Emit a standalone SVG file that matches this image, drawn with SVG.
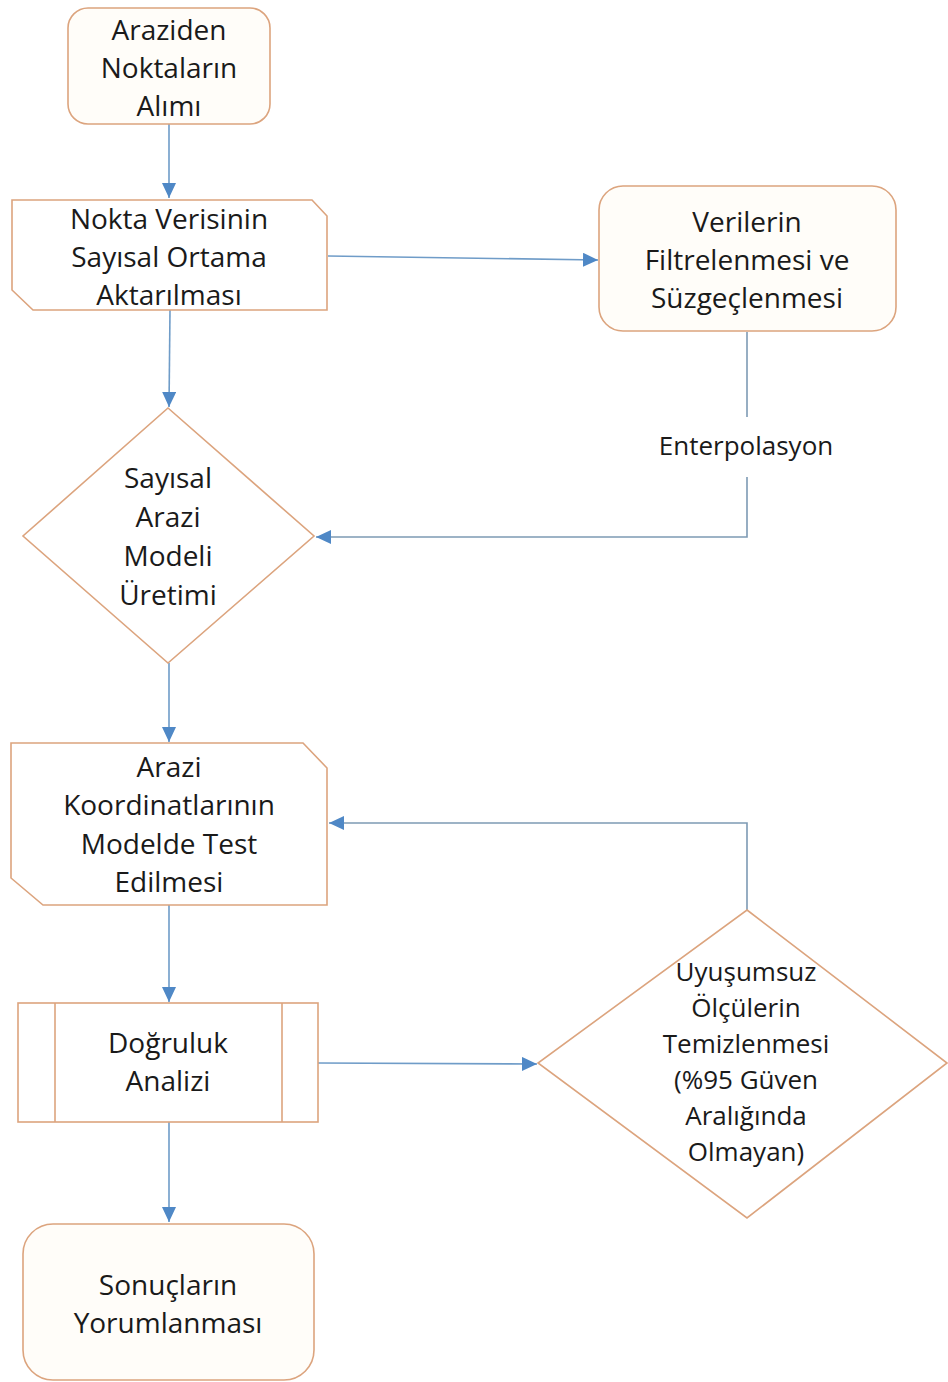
<svg xmlns="http://www.w3.org/2000/svg" width="948" height="1382" viewBox="0 0 948 1382">
<style>
.n{fill:#ffffff;stroke:#dca47e;stroke-width:1.6}
.c{fill:#fffdf9;stroke:#dca47e;stroke-width:1.6}
.t{font-family:"Open Sans","Liberation Sans",sans-serif;font-size:28px;fill:#1a1a1a;text-anchor:middle}
.s{font-size:26px}
.l{fill:none;stroke:#6f9cc8;stroke-width:1.6}
.g{fill:none;stroke:#7d9ab4;stroke-width:1.6}
</style>
<defs>
<marker id="ah2" viewBox="0 0 10 10" refX="10" refY="5" markerWidth="15" markerHeight="14" markerUnits="userSpaceOnUse" orient="auto" preserveAspectRatio="none">
<path d="M0,0 L10,5 L0,10 z" fill="#4f88c6"/>
</marker>
</defs>
<rect width="948" height="1382" fill="#ffffff"/>
<g id="connectors">
<path class="l" d="M169,124 L169,198" marker-end="url(#ah2)"/>
<path class="l" d="M328,256 L598,260" marker-end="url(#ah2)"/>
<path class="g" d="M747,332 L747,417"/>
<path class="g" d="M747,477 L747,537 L316,537" marker-end="url(#ah2)"/>
<path class="l" d="M170,310 L169,407" marker-end="url(#ah2)"/>
<path class="l" d="M169,663 L169,742" marker-end="url(#ah2)"/>
<path class="l" d="M169,905 L169,1002" marker-end="url(#ah2)"/>
<path class="l" d="M318,1063 L537,1064" marker-end="url(#ah2)"/>
<path class="g" d="M747,910 L747,823 L329,823" marker-end="url(#ah2)"/>
<path class="l" d="M169,1122 L169,1222" marker-end="url(#ah2)"/>
<text class="t s" x="746" y="455">Enterpolasyon</text>
</g>
<g id="n1">
<rect class="c" x="68" y="8" width="202" height="116" rx="20"/>
<text class="t" x="169" y="40">Araziden</text>
<text class="t" x="169" y="78">Noktaların</text>
<text class="t" x="169" y="116">Alımı</text>
</g>
<g id="n2">
<path class="n" d="M12,200 L312,200 L327,216 L327,310 L33,310 L12,290 Z"/>
<text class="t" x="169" y="229">Nokta Verisinin</text>
<text class="t" x="169" y="267">Sayısal Ortama</text>
<text class="t" x="169" y="305">Aktarılması</text>
</g>
<g id="n3">
<rect class="c" x="599" y="186" width="297" height="145" rx="24"/>
<text class="t" x="747" y="232">Verilerin</text>
<text class="t" x="747" y="270">Filtrelenmesi ve</text>
<text class="t" x="747" y="308">Süzgeçlenmesi</text>
</g>
<g id="n4">
<path class="n" d="M168,408 L314,536 L168,663 L23,536 Z"/>
<text class="t" x="168" y="488">Sayısal</text>
<text class="t" x="168" y="527">Arazi</text>
<text class="t" x="168" y="566">Modeli</text>
<text class="t" x="168" y="605">Üretimi</text>
</g>
<g id="n5">
<path class="n" d="M11,743 L303,743 L327,768 L327,905 L43,905 L11,878 Z"/>
<text class="t" x="169" y="777">Arazi</text>
<text class="t" x="169" y="815">Koordinatlarının</text>
<text class="t" x="169" y="854">Modelde Test</text>
<text class="t" x="169" y="892">Edilmesi</text>
</g>
<g id="n6">
<rect class="n" x="18" y="1003" width="300" height="119"/>
<line class="n" x1="55" y1="1003" x2="55" y2="1122"/>
<line class="n" x1="282" y1="1003" x2="282" y2="1122"/>
<text class="t" x="168" y="1053">Doğruluk</text>
<text class="t" x="168" y="1091">Analizi</text>
</g>
<g id="n7">
<path class="n" d="M747,910 L947,1063 L747,1218 L538,1063 Z"/>
<text class="t s" x="746" y="981">Uyuşumsuz</text>
<text class="t s" x="746" y="1017">Ölçülerin</text>
<text class="t s" x="746" y="1053">Temizlenmesi</text>
<text class="t s" x="746" y="1089">(%95 Güven</text>
<text class="t s" x="746" y="1125">Aralığında</text>
<text class="t s" x="746" y="1161">Olmayan)</text>
</g>
<g id="n8">
<rect class="c" x="23" y="1224" width="291" height="156" rx="30"/>
<text class="t" x="168" y="1295">Sonuçların</text>
<text class="t" x="168" y="1333">Yorumlanması</text>
</g>
</svg>
